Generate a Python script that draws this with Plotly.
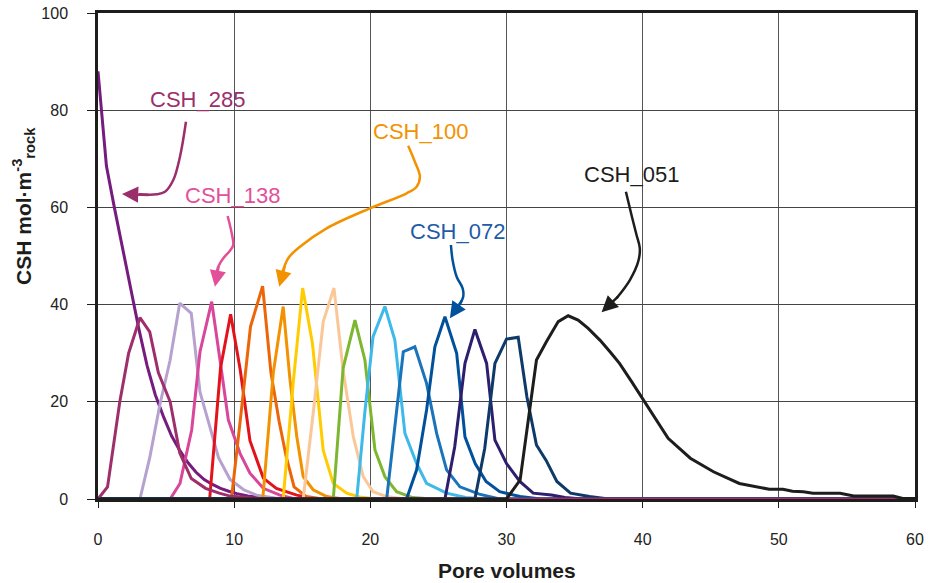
import plotly.graph_objects as go

# ---------------- data (pore volumes, CSH mol/m3 rock) ----------------
pv_purple = [0, 0.62, 1.2, 1.8, 2.4, 3.0, 3.6, 4.2, 4.8, 5.4, 6.0, 6.6, 7.2, 7.8, 8.4, 9.0, 9.6, 10.2, 11.0, 12.0, 13.0, 60]
csh_purple = [88, 68.5, 60, 51.5, 43, 35, 27.5, 21.5, 17, 13, 10, 7.5, 5.5, 4, 3, 2.2, 1.6, 1.1, 0.6, 0.3, 0, 0]

pv_lavender = [0, 3.08, 3.8, 4.55, 5.29, 6.0, 6.85, 7.49, 8.2, 8.85, 9.7, 10.7, 11.65, 13, 14, 60]
csh_lavender = [0, 0, 8.5, 19.5, 28.5, 40.3, 38.2, 22, 15, 8.5, 4, 1.9, 0.8, 0.2, 0, 0]

pv_pink = [0, 5.3, 6.02, 6.88, 7.49, 8.35, 8.96, 9.57, 10.43, 11.16, 12.14, 13.36, 14.5, 60]
csh_pink = [0, 0, 3.2, 14.2, 30.3, 40.6, 28.6, 16.3, 9.4, 5.3, 2.2, 0.8, 0, 0]

pv_red = [0, 8.2, 9.0, 9.74, 10.45, 11.16, 12.14, 13.1, 14.6, 16, 60]
csh_red = [0, 0, 27, 38, 26.5, 12, 4.3, 2.2, 0.8, 0, 0]

pv_orangered = [0, 9.8, 10.5, 11.2, 12.09, 12.7, 13.3, 13.8, 14.4, 15.3, 16.5, 60]
csh_orangered = [0, 0, 17.5, 35.5, 43.8, 26, 16, 9, 2.5, 0.5, 0, 0]

pv_orange = [0, 12.1, 12.87, 13.6, 14.1, 14.6, 15.07, 15.8, 16.8, 18, 60]
csh_orange = [0, 0, 25.9, 39.6, 24.5, 12.8, 4.6, 1.9, 0.5, 0, 0]

pv_yellow = [0, 13.6, 14.34, 15.03, 15.75, 16.54, 17.28, 18.26, 19.2, 20.5, 60]
csh_yellow = [0, 0, 24, 43.4, 32, 10, 3.2, 1.2, 0.4, 0, 0]

pv_peach = [0, 15.07, 15.8, 16.54, 17.33, 18.0, 18.75, 19.48, 20.2, 21.2, 22.5, 60]
csh_peach = [0, 0, 17.6, 36.5, 43.4, 26.5, 12.8, 4.6, 1.5, 0.5, 0, 0]

pv_green = [0, 17.28, 18.0, 18.87, 19.6, 20.34, 21.07, 21.93, 23.1, 24.5, 60]
csh_green = [0, 0, 26.9, 36.8, 28.6, 10.1, 4.6, 1.5, 0.3, 0, 0]

pv_lightblue = [0, 19.0, 19.6, 20.2, 21.07, 21.8, 22.54, 23.4, 24.13, 25.6, 27, 28.5, 60]
csh_lightblue = [0, 0, 18, 33.4, 39.6, 32.7, 13.5, 7.3, 3.2, 1.2, 0.3, 0, 0]

pv_midblue = [0, 21.2, 22.42, 23.27, 24.13, 24.87, 25.6, 26.58, 28, 29.5, 60]
csh_midblue = [0, 0, 30.3, 31.3, 23.8, 13.5, 6, 2.5, 1, 0, 0]

pv_darkblue = [0, 22.66, 23.4, 24.13, 24.74, 25.48, 26.34, 26.95, 27.7, 28.5, 29.5, 31, 32.5, 60]
csh_darkblue = [0, 0, 6, 18.3, 31.3, 37.5, 30, 12.8, 7.3, 3.6, 1.5, 0.5, 0, 0]

pv_indigo = [0, 25.48, 26.2, 26.95, 27.68, 28.54, 29.15, 30.0, 30.98, 31.96, 33.3, 34.3, 35.5, 60]
csh_indigo = [0, 0, 10.8, 27.9, 34.9, 27.9, 12.1, 7.3, 3.6, 1.2, 0.8, 0.3, 0, 0]

pv_navy = [0, 27.68, 28.4, 29.15, 30.0, 30.86, 31.5, 32.2, 32.9, 33.7, 34.7, 36.1, 37.5, 60]
csh_navy = [0, 0, 10.4, 27.9, 32.9, 33.3, 21, 11.1, 8, 3.6, 1.2, 0.5, 0, 0]

pv_maroon = [0, 0.7, 1.6, 2.25, 3.08, 3.8, 4.43, 5.3, 6.0, 6.85, 7.9, 8.9, 9.7, 11, 12, 60]
csh_maroon = [0, 2.5, 20, 30, 37.3, 34.4, 26, 20, 9.5, 4.2, 2.2, 1.2, 0.6, 0.2, 0, 0]

pv_black = [0, 30.0, 31.0, 32.2, 32.94, 33.8, 34.53, 35.26, 36.0, 36.86, 37.6, 38.3, 39.2, 40.04,
            40.9, 41.87, 43.5, 45.2, 47.1, 49.3, 50.3, 51.0, 51.8, 52.5, 54.5, 55.5, 58.4, 59.1, 60]
csh_black = [0, 0, 3.9, 28.6, 32.4, 36.5, 37.7, 36.8, 35.1, 32.7, 30.3, 27.9, 24.1, 20.4,
             16.6, 12.5, 8.4, 5.6, 3.2, 2.0, 2.0, 1.6, 1.5, 1.2, 1.2, 0.6, 0.6, 0.1, 0.1]

x_ticks = [0, 10, 20, 30, 40, 50, 60]
y_ticks = [0, 20, 40, 60, 80, 100]

label_texts = ["CSH_285", "CSH_138", "CSH_100", "CSH_072", "CSH_051"]

# ---------------- figure ----------------
series = [
    (pv_purple, csh_purple, "#761C7E"),
    (pv_lavender, csh_lavender, "#B7A1CF"),
    (pv_pink, csh_pink, "#D8479A"),
    (pv_red, csh_red, "#E3131B"),
    (pv_orangered, csh_orangered, "#EC6608"),
    (pv_orange, csh_orange, "#F39200"),
    (pv_yellow, csh_yellow, "#FFCC00"),
    (pv_peach, csh_peach, "#FAC898"),
    (pv_green, csh_green, "#7DB72F"),
    (pv_lightblue, csh_lightblue, "#3DB9EA"),
    (pv_midblue, csh_midblue, "#1B74BA"),
    (pv_darkblue, csh_darkblue, "#00519C"),
    (pv_indigo, csh_indigo, "#2D1F6E"),
    (pv_navy, csh_navy, "#0D3A68"),
    (pv_maroon, csh_maroon, "#9E2F6B"),
    (pv_black, csh_black, "#1D1D1B"),
]

fig = go.Figure()
for xs, ys, col in series:
    fig.add_trace(go.Scatter(x=xs, y=ys, mode="lines",
                             line=dict(color=col, width=3), showlegend=False,
                             hoverinfo="skip"))

# curved label arrows (decorations)
arrow_paths = [
    ("#9B2F6B", [(6.46, 77.63), (6.02, 70.43), (5.53, 65.64), (4.92, 63.23), (4.31, 62.70), (3.0, 62.7)], (1.76, 62.76), (28, 1)),
    ("#E2509A", [(9.52, 58.23), (9.82, 54.67), (9.93, 52.26), (9.69, 51.09), (9.20, 49.53), (8.83, 47.80), (8.66, 45.74)], (8.59, 43.68), (4, -22)),
    ("#F39200", [(22.78, 72.70), (23.27, 69.40), (23.64, 66.32), (23.40, 64.26), (22.67, 62.90), (19.97, 59.81),
                 (16.79, 55.70), (14.83, 51.91), (13.97, 49.53), (13.49, 46.09)], (13.31, 43.68), (6, -22)),
    ("#00519C", [(25.92, 52.26), (26.04, 49.18), (26.34, 45.74), (26.78, 43.35), (26.82, 41.63), (26.45, 39.57)], (25.84, 37.18), (13, -19)),
    ("#1D1D1B", [(38.77, 63.23), (39.18, 58.44), (39.55, 54.32), (39.79, 51.58), (39.67, 48.83), (39.06, 45.06), (38.08, 41.30)], (36.98, 38.42), (18, -17)),
]

annotations = []
for col, pts, tip, off in arrow_paths:
    fig.add_trace(go.Scatter(x=[p[0] for p in pts], y=[p[1] for p in pts], mode="lines",
                             line=dict(color=col, width=2.5, shape="spline"),
                             showlegend=False, hoverinfo="skip"))
    annotations.append(dict(x=tip[0], y=tip[1], xref="x", yref="y", ax=off[0], ay=off[1],
                            text="", showarrow=True, arrowhead=2, arrowsize=1.3,
                            arrowwidth=2.5, arrowcolor=col, standoff=0))

label_pos = [(7.34, 82.1, "#9B2F6B"), (9.88, 62.35, "#E2509A"), (23.72, 75.72, "#F39200"),
             (26.43, 55.14, "#1F5BA6"), (39.21, 66.87, "#1D1D1B")]
for txt, (lx, ly, col) in zip(label_texts, label_pos):
    annotations.append(dict(x=lx, y=ly, xref="x", yref="y", text=txt, showarrow=False,
                            font=dict(family="Liberation Sans, Arial", size=22, color=col),
                            xanchor="center", yanchor="middle"))

annotations.append(dict(x=0.5, y=-0.148, xref="paper", yref="paper", text="<b>Pore volumes</b>",
                        showarrow=False, font=dict(family="Liberation Sans, Arial", size=21, color="#1D1D1B"),
                        xanchor="center", yanchor="middle"))
annotations.append(dict(x=-0.0906, y=0.603, xref="paper", yref="paper",
                        text="<b>CSH mol·m<sup>-3</sup><sub>rock</sub></b>", textangle=-90,
                        showarrow=False, font=dict(family="Liberation Sans, Arial", size=21, color="#1D1D1B"),
                        xanchor="center", yanchor="middle"))

fig.update_layout(
    width=929, height=583,
    margin=dict(l=98, r=14, t=13, b=84, autoexpand=False),
    paper_bgcolor="white", plot_bgcolor="white",
    annotations=annotations,
    font=dict(family="Liberation Sans, Arial", color="#222"),
)
fig.update_xaxes(range=[0, 60], tickvals=x_ticks, showgrid=True, gridcolor="#555", gridwidth=1,
                 zeroline=False, showline=True, linecolor="#1D1D1B", linewidth=2.5, mirror=True,
                 ticks="outside", ticklen=6, tickcolor="#1D1D1B", tickwidth=1.2, automargin=False,
                 ticklabelstandoff=18, tickfont=dict(size=16, color="#222"))
fig.update_yaxes(range=[0, 100], tickvals=y_ticks, showgrid=True, gridcolor="#444", gridwidth=1,
                 zeroline=False, showline=True, linecolor="#1D1D1B", linewidth=2.5, mirror=True,
                 ticks="outside", ticklen=8, tickcolor="#1D1D1B", tickwidth=1.2, automargin=False,
                 ticklabelstandoff=16, tickfont=dict(size=16, color="#222"))

fig.write_html("out.html")
